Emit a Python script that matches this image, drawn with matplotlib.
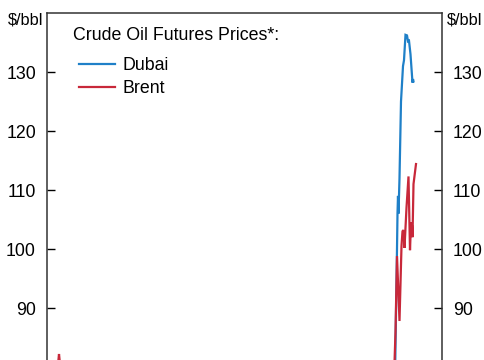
import matplotlib
matplotlib.use("Agg")
import matplotlib.pyplot as plt

plt.rcParams['font.family'] = ['Liberation Sans', 'DejaVu Sans']

# Day index (half-day resolution units along the time axis)
dubai_day = [0, 8, 14, 20, 40, 80, 150, 250, 400, 560, 650, 692, 696, 700, 701, 702, 703,
             705, 708, 712, 714, 717, 720, 722, 724, 727, 731, 732, 733]
dubai_val = [70, 73, 76, 74, 70, 66, 68, 65, 67, 66, 68, 72, 78, 100, 106, 109, 106,
             112, 125, 131, 132, 136.3, 136.2, 135.2, 135.3, 133, 128.2, 128.8, 128.4]

brent_day = [0, 21, 24, 26, 29, 33, 45, 90, 160, 260, 410, 570, 655, 690, 694, 697, 700,
             705, 709, 711, 713, 715, 719, 723, 726, 728, 730, 731, 733, 738]
brent_val = [74, 79.5, 82.2, 80.5, 77, 74, 70, 65, 67, 63, 66, 64, 67, 73, 78, 86, 98.8,
             87.8, 100.5, 103, 103.2, 100.2, 107, 112.3, 99.8, 104.5, 104, 102, 111, 114.4]

yticks = [70, 80, 90, 100, 110, 120, 130]
unit = "$/bbl"
legend_title = "Crude Oil Futures Prices*:"

W, H = 485, 360
fig = plt.figure(figsize=(W / 100, H / 100), dpi=100)
left, right, top, bottom_px = 47, 442, 13, 426
ax = fig.add_axes([left / W, 1 - bottom_px / H, (right - left) / W, (bottom_px - top) / H])

blue = '#1f80c8'
red = '#c8283a'
ax.plot(dubai_day, dubai_val, color=blue, lw=1.6, label='Dubai', solid_joinstyle='miter')
ax.plot(brent_day, brent_val, color=red, lw=1.6, label='Brent', solid_joinstyle='miter')

ax.set_xlim(0, 790)
ax.set_ylim(70, 140)
ax.set_yticks(yticks)
ax.set_xticks([])
ax.tick_params(axis='y', direction='in', length=6, width=1, labelsize=12.8,
               left=True, right=True, labelleft=True, labelright=True, pad=8)
for s in ax.spines.values():
    s.set_linewidth(1.1)
    s.set_color('#333333')

fig.text(8 / W, 1 - 20 / H, unit, fontsize=11.8, va='center', ha='left')
fig.text(447 / W, 1 - 20 / H, unit, fontsize=11.8, va='center', ha='left')

fig.text(73 / W, 1 - 36 / H, legend_title, fontsize=12.8, va='center', ha='left')

fs = 12.8
leg = ax.legend(loc='center left',
                bbox_to_anchor=((79 - left) / (right - left), (bottom_px - 77) / (bottom_px - top)),
                frameon=False, fontsize=fs, borderpad=0, borderaxespad=0,
                handlelength=36 / (fs * 100 / 72), handletextpad=8 / (fs * 100 / 72),
                labelspacing=0.33)

fig.savefig('out.png', dpi=100)
